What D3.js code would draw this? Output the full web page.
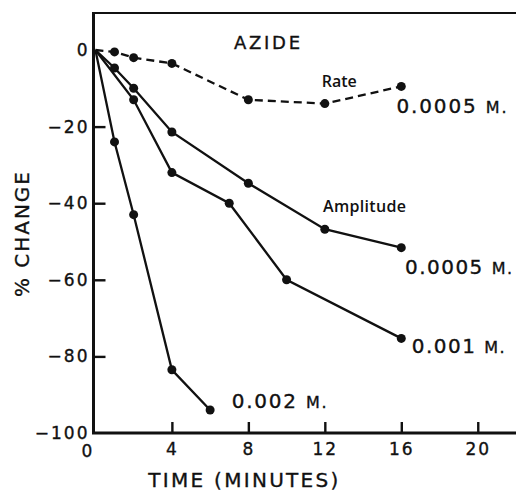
<!DOCTYPE html>
<html>
<head>
<meta charset="utf-8">
<script src="https://cdn.jsdelivr.net/npm/d3@7/dist/d3.min.js"></script>
<style>
  html, body { margin: 0; padding: 0; background: #fff; }
  svg { display: block; }
</style>
</head>
<body>
<svg id="chart" width="516" height="491"></svg>
<script>
// ---- data ----
const rateTime      = [0, 1, 2, 4, 8, 12, 16];
const rateValues    = [0, -0.5, -2, -3.5, -13, -14, -9.5];
const amp0005Time   = [0, 1, 2, 4, 8, 12, 16];
const amp0005Values = [0, -4.7, -10, -21.4, -34.8, -46.8, -51.6];
const amp001Time    = [0, 2, 4, 7, 10, 16];
const amp001Values  = [0, -13, -32, -40, -60, -75.3];
const amp002Time    = [0, 1, 2, 4, 6];
const amp002Values  = [0, -24, -43, -83.5, -94];
const xTicks = [0, 4, 8, 12, 16, 20];
const yTicks = [0, -20, -40, -60, -80, -100];
const titleText = "AZIDE";
const xTitle = "TIME (MINUTES)";
const yTitle = "% CHANGE";

const svg = d3.select("#chart");
const x = d3.scaleLinear().domain([-0.1, 22.0]).range([93.5, 516]);
const y = d3.scaleLinear().domain([-100, 9.66]).range([433, 13]);

const mainFont = "'DejaVu Sans', sans-serif";
const ink = "#111";

// axes
const xAxis = d3.axisBottom(x).tickValues(xTicks).tickSize(-11).tickPadding(10).tickFormat(d3.format("d"));
const gx = svg.append("g").attr("transform", `translate(0,${y(-100)})`).call(xAxis);
const yAxis = d3.axisLeft(y).tickValues(yTicks).tickSize(-12).tickPadding(4).tickFormat(d3.format("d"));
const gy = svg.append("g").attr("transform", `translate(${x(-0.1)},0)`).call(yAxis);

[gx, gy].forEach(g => {
  g.select(".domain").remove();
  g.selectAll(".tick line").attr("stroke", ink).attr("stroke-width", 2.4);
  g.selectAll(".tick text").attr("fill", ink).attr("stroke", ink).attr("stroke-width", 0.35)
    .style("font-family", mainFont).style("font-size", "17px").style("letter-spacing", "2px");
});
gx.selectAll(".tick").filter(d => d === 0).select("line").remove();
gx.selectAll(".tick").filter(d => d === 0).select("text").attr("x", -8).attr("y", 12);
gy.selectAll(".tick").filter(d => d === 0 || d === -100).select("line").remove();

// frame
const frame = svg.append("g").attr("stroke", ink).attr("fill", "none");
frame.append("line").attr("x1", x(-0.1)).attr("x2", x(-0.1)).attr("y1", y(9.66)).attr("y2", y(-100)).attr("stroke-width", 3);
frame.append("line").attr("x1", x(-0.1) - 1.5).attr("x2", 516).attr("y1", y(-100)).attr("y2", y(-100)).attr("stroke-width", 3);
frame.append("line").attr("x1", x(-0.1) - 1.5).attr("x2", 516).attr("y1", y(9.66)).attr("y2", y(9.66)).attr("stroke-width", 2);

// series
const series = [
  { t: rateTime, v: rateValues, dash: "8,5" },
  { t: amp0005Time, v: amp0005Values, dash: null },
  { t: amp001Time, v: amp001Values, dash: null },
  { t: amp002Time, v: amp002Values, dash: null }
];
const line = d3.line().x(d => x(d[0])).y(d => y(d[1]));
series.forEach(s => {
  const pts = s.t.map((t, i) => [t, s.v[i]]);
  svg.append("path").datum(pts).attr("d", line)
    .attr("fill", "none").attr("stroke", ink).attr("stroke-width", 2.3)
    .attr("stroke-dasharray", s.dash);
  svg.append("g").selectAll("circle").data(pts.slice(1)).join("circle")
    .attr("cx", d => x(d[0])).attr("cy", d => y(d[1])).attr("r", 4.5).attr("fill", ink);
});

// text
function label(tx, ty, parts, len, family, weight) {
  const t = svg.append("text").attr("x", tx).attr("y", ty).attr("fill", ink)
    .attr("stroke", ink).attr("stroke-width", family ? 0 : 0.35)
    .style("font-family", family || mainFont).style("font-weight", weight || "normal");
  parts.forEach(p => t.append("tspan").style("font-size", p[1] + "px").text(p[0]));
  if (len) t.attr("textLength", len).attr("lengthAdjust", "spacing");
  return t;
}
label(234, 49.3, [[titleText, 18]], 66);
label(321.7, 86.7, [["Rate", 16]], 35, "'Open Sans', sans-serif", 600);
label(323, 211.7, [["Amplitude", 16]], 83, "'Open Sans', sans-serif", 600);
label(396.5, 113.3, [["0.0005 ", 20], ["M.", 16]], 110);
label(405, 274.3, [["0.0005 ", 20], ["M.", 16]], 107);
label(411.7, 352.7, [["0.001 ", 20], ["M.", 16]], 93);
label(231.7, 408.3, [["0.002 ", 20], ["M.", 16]], 95);
label(148.3, 486.5, [[xTitle, 20]], 190);
svg.append("text").attr("transform", "translate(28.5,297) rotate(-90)")
  .attr("fill", ink).attr("stroke", ink).attr("stroke-width", 0.35)
  .style("font-family", mainFont).style("font-size", "20px")
  .attr("textLength", 125).attr("lengthAdjust", "spacing").text(yTitle);
</script>
</body>
</html>
